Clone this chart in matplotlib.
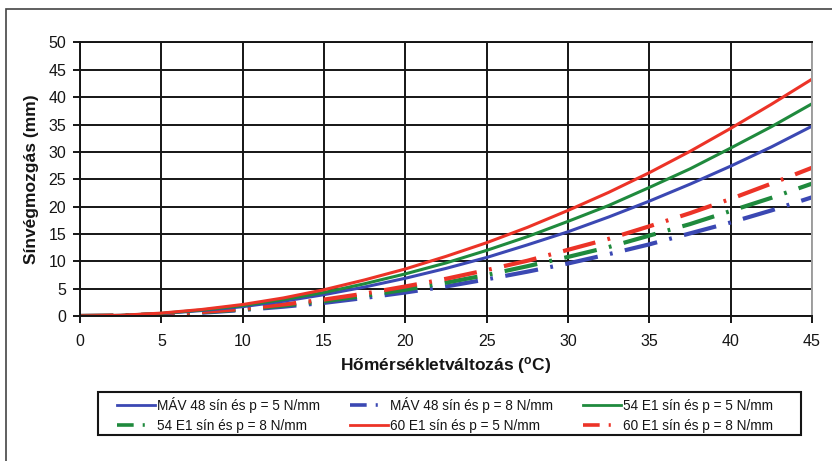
import matplotlib
matplotlib.use("Agg")
import matplotlib.pyplot as plt
from matplotlib.patches import Rectangle
from matplotlib.lines import Line2D
from matplotlib import font_manager as fm

# ---- data ----
temp = [0, 2.5, 5, 7.5, 10, 12.5, 15, 17.5, 20, 22.5, 25, 27.5, 30, 32.5, 35, 37.5, 40, 42.5, 45]
mav48_p5 = [0, 0.11, 0.43, 1.0, 1.7, 2.7, 3.9, 5.3, 6.9, 8.7, 10.7, 13.0, 15.4, 18.1, 21.0, 24.1, 27.4, 30.9, 34.7]
e54_p5 = [0, 0.12, 0.48, 1.1, 1.9, 3.0, 4.3, 5.9, 7.7, 9.7, 12.0, 14.5, 17.3, 20.2, 23.5, 26.9, 30.7, 34.6, 38.8]
e60_p5 = [0, 0.13, 0.53, 1.2, 2.1, 3.3, 4.8, 6.6, 8.6, 10.9, 13.4, 16.2, 19.3, 22.6, 26.2, 30.1, 34.3, 38.7, 43.3]
mav48_p8 = [0, 0.07, 0.27, 0.6, 1.1, 1.7, 2.4, 3.3, 4.3, 5.4, 6.7, 8.1, 9.6, 11.3, 13.1, 15.1, 17.1, 19.3, 21.7]
e54_p8 = [0, 0.08, 0.3, 0.7, 1.2, 1.9, 2.7, 3.7, 4.8, 6.1, 7.5, 9.1, 10.8, 12.6, 14.7, 16.8, 19.2, 21.6, 24.2]
e60_p8 = [0, 0.08, 0.33, 0.75, 1.3, 2.1, 3.0, 4.1, 5.4, 6.8, 8.4, 10.1, 12.1, 14.1, 16.4, 18.8, 21.4, 24.2, 27.1]

labels = ["MÁV 48 sín és p = 5 N/mm", "MÁV 48 sín és p = 8 N/mm",
          "54 E1 sín és p = 5 N/mm", "54 E1 sín és p = 8 N/mm",
          "60 E1 sín és p = 5 N/mm", "60 E1 sín és p = 8 N/mm"]
x_ticks = [0, 5, 10, 15, 20, 25, 30, 35, 40, 45]
y_ticks = [0, 5, 10, 15, 20, 25, 30, 35, 40, 45, 50]

BLUE = "#3b48b3"
GREEN = "#1f8a3d"
RED = "#ec3327"
INK = "#151515"

plt.rcParams['font.family'] = ['Liberation Sans', 'DejaVu Sans']
plt.rcParams['lines.scale_dashes'] = False
plt.rcParams['mathtext.fontset'] = 'custom'
plt.rcParams['mathtext.bf'] = 'Liberation Sans:bold'
plt.rcParams['mathtext.rm'] = 'Liberation Sans'

names = {f.name for f in fm.fontManager.ttflist}
if 'Liberation Sans Narrow' in names:
    leg_family, leg_size = 'Liberation Sans Narrow', 10.0
else:
    leg_family, leg_size = 'Liberation Sans', 9.8

W, H = 832, 461
fig = plt.figure(figsize=(W/100, H/100), dpi=100)
ax = fig.add_axes([80/W, 1-316/H, (812-80)/W, (316-42.5)/H])

# outer frame (cut by the right and bottom image edges)
fig.patches.append(Rectangle((6/W, -0.2), 1.2, 1.2 - 9/H,
                             transform=fig.transFigure, fill=False,
                             edgecolor="#444444", linewidth=1.2, zorder=0))

dashdot = (0, (24, 9, 2, 9))
lw_s = 2.2
lw_d = 3.0
ax.plot(temp, mav48_p8, color=BLUE, lw=lw_d, linestyle=dashdot, dash_capstyle='butt')
ax.plot(temp, e54_p8, color=GREEN, lw=lw_d, linestyle=dashdot, dash_capstyle='butt')
ax.plot(temp, e60_p8, color=RED, lw=lw_d, linestyle=dashdot, dash_capstyle='butt')
ax.plot(temp, mav48_p5, color=BLUE, lw=lw_s)
ax.plot(temp, e54_p5, color=GREEN, lw=lw_s)
ax.plot(temp, e60_p5, color=RED, lw=lw_s)

ax.set_xlim(0, 45)
ax.set_ylim(0, 50)
ax.set_xticks(x_ticks)
ax.set_yticks(y_ticks)
ax.grid(True, color=INK, linewidth=1.4)
ax.set_axisbelow(True)
for s in ['left', 'bottom', 'top']:
    ax.spines[s].set_color(INK)
    ax.spines[s].set_linewidth(1.4)
ax.spines['right'].set_color("#a0a0a0")
ax.spines['right'].set_linewidth(1.4)
ax.tick_params(axis='both', length=5, width=1.4, color=INK,
               labelsize=11.5, labelcolor=INK)
ax.tick_params(axis='x', pad=8)
ax.tick_params(axis='y', pad=5)

ax.set_ylabel("Sínvégmozgás (mm)", fontsize=12.5, fontweight='bold', labelpad=7, color=INK)
ax.set_xlabel(r"Hőmérsékletváltozás ($\mathbf{^{o}}$C)", fontsize=12.5, fontweight='bold',
              labelpad=4, color=INK)

# legend box
fig.patches.append(Rectangle((98/W, 1-435/H), (801-98)/W, (435-392)/H,
                             transform=fig.transFigure, fill=False,
                             edgecolor=INK, linewidth=1.5, zorder=1))

hdash = (0, (12, 6.5, 1.5, 40))
h_mav5 = Line2D([], [], color=BLUE, lw=2.0)
h_54_5 = Line2D([], [], color=GREEN, lw=2.0)
h_60_5 = Line2D([], [], color=RED, lw=2.0)
h_mav8 = Line2D([], [], color=BLUE, lw=2.6, linestyle=hdash, dash_capstyle='butt')
h_54_8 = Line2D([], [], color=GREEN, lw=2.6, linestyle=hdash, dash_capstyle='butt')
h_60_8 = Line2D([], [], color=RED, lw=2.6, linestyle=hdash, dash_capstyle='butt')
# reference reads row by row; matplotlib fills column by column
handles = [h_mav5, h_54_8, h_mav8, h_60_5, h_54_5, h_60_8]
leg_labels = [labels[0], labels[3], labels[1], labels[4], labels[2], labels[5]]
fs_px = leg_size * 100 / 72
leg = fig.legend(handles, leg_labels, ncol=3, loc='center left',
                 bbox_to_anchor=(117/W, 1-415/H),
                 frameon=False,
                 prop={'family': leg_family, 'size': leg_size},
                 labelcolor=INK,
                 handlelength=38/fs_px, handletextpad=2/fs_px,
                 columnspacing=30/fs_px,
                 labelspacing=0.45, borderpad=0.0, borderaxespad=0.0)

fig.savefig("out.png", dpi=100)
